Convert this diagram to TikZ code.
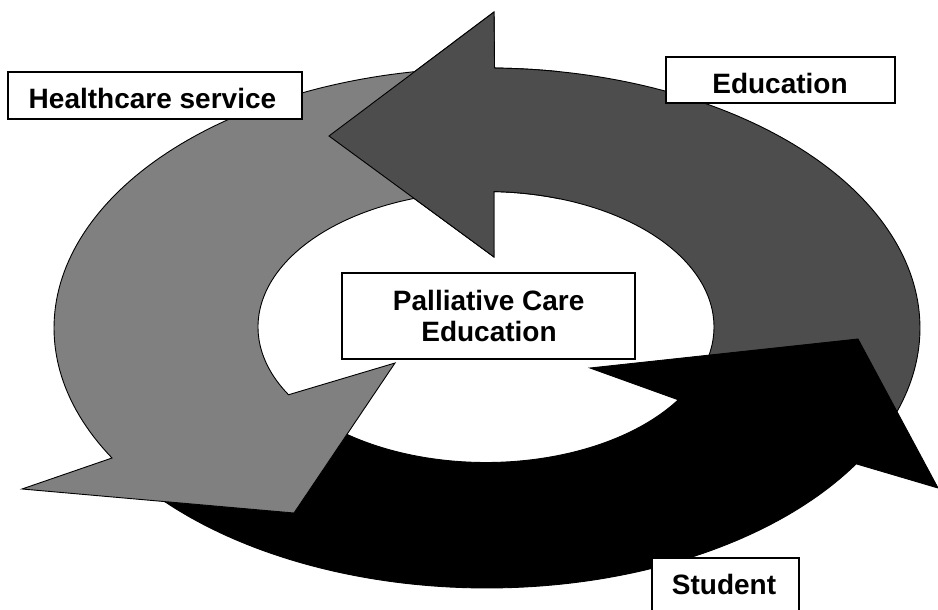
\documentclass[tikz,border=0pt]{standalone}
\usepackage{fontspec}
\setmainfont{Liberation Sans}
\definecolor{arrowlight}{gray}{0.5}
\definecolor{arrowdark}{RGB}{77,77,77}
\begin{document}
\begin{tikzpicture}[x=1pt,y=-1pt,
  ringpart/.style={draw=black,line width=0.9pt,line join=miter},
  lightpart/.style={ringpart,fill=arrowlight},
  darkpart/.style={ringpart,fill=arrowdark},
  blackpart/.style={ringpart,fill=black},
  labelbox/.style={draw=black,line width=1.2pt,fill=white,inner sep=0pt,outer sep=0pt},
  labeltext/.style={font=\fontsize{28}{31}\selectfont\bfseries,inner sep=0pt,anchor=base}]
\useasboundingbox (0,0) rectangle (938,610);
\clip (0,0) rectangle (938,610);

% arrow head corners
\coordinate (eduWingA) at (494,12);
\coordinate (eduTip)   at (329,136);
\coordinate (eduWingB) at (494,257);
\coordinate (hcWingA)  at (22,489);
\coordinate (hcTip)    at (294,513);
\coordinate (hcWingB)  at (395,363);
\coordinate (stWingA)  at (938,488);
\coordinate (stTip)    at (858,339);
\coordinate (stWingB)  at (590,368);

% ring: outer ellipse centre (487,328) radii 433/260, inner centre (486,327) radii 228/135.5

% dark arrow (Education)
\filldraw[darkpart]
  plot[domain=-89:23,samples=90,variable=\t]({487+433*cos(\t)},{328+260*sin(\t)})
  -- plot[domain=23:-88,samples=90,variable=\t]({486+228*cos(\t)},{327+135.5*sin(\t)})
  -- (eduWingB) -- (eduTip) -- (eduWingA) -- cycle;

% black arrow (Student), its head over the tail of the dark arrow
\filldraw[blackpart]
  plot[domain=142:31.5,samples=90,variable=\t]({487+433*cos(\t)},{328+260*sin(\t)})
  -- (stWingA) -- (stTip) -- (stWingB)
  -- plot[domain=32.5:142,samples=90,variable=\t]({486+228*cos(\t)},{327+135.5*sin(\t)})
  -- cycle;

% light arrow (Healthcare service), its head over the tail of the black arrow
\filldraw[lightpart]
  plot[domain=-95:-210,samples=90,variable=\t]({487+433*cos(\t)},{328+260*sin(\t)})
  -- (hcWingA) -- (hcTip) -- (hcWingB)
  -- plot[domain=-210:-95,samples=90,variable=\t]({486+228*cos(\t)},{327+135.5*sin(\t)})
  -- cycle;

% head of the dark arrow lies over the tail of the light arrow
\begin{scope}
  \clip (300,0) rectangle (560,280);
  \filldraw[darkpart]
    plot[domain=-89:23,samples=90,variable=\t]({487+433*cos(\t)},{328+260*sin(\t)})
    -- plot[domain=23:-88,samples=90,variable=\t]({486+228*cos(\t)},{327+135.5*sin(\t)})
    -- (eduWingB) -- (eduTip) -- (eduWingA) -- cycle;
\end{scope}

% labels
\node[labelbox,minimum width=294pt,minimum height=47pt] (hcbox) at (155,95.5) {};
\node[labeltext] (hctext) at (152.5,108.3) {Healthcare service};

\node[labelbox,minimum width=229pt,minimum height=46pt] (edubox) at (780.5,80) {};
\node[labeltext] (edutext) at (780,94) {Education};

\node[labelbox,minimum width=293pt,minimum height=86pt] (pcbox) at (488.5,316) {};
\node[labeltext] (pctextA) at (488.7,310) {Palliative Care};
\node[labeltext] (pctextB) at (489,341.7) {Education};

\node[labelbox,minimum width=147pt,minimum height=70pt] (stbox) at (725.5,593) {};
\node[labeltext] (sttext) at (724,594) {Student};
\end{tikzpicture}
\end{document}
